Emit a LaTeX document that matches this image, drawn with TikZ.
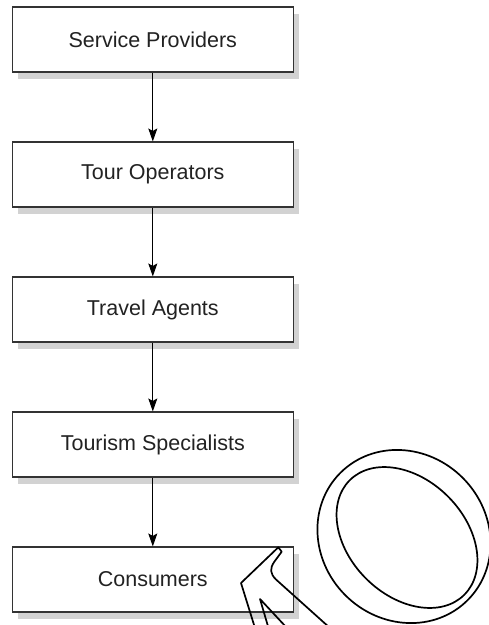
\documentclass[tikz,border=0pt]{standalone}
\usepackage{fontspec}
\setmainfont{Liberation Sans}
\usetikzlibrary{arrows.meta}
\definecolor{boxline}{HTML}{333333}
\definecolor{shadowgray}{HTML}{D2D2D2}
\definecolor{txt}{HTML}{222222}
\tikzset{
  stagebox/.style={draw=boxline, line width=1.1pt, fill=white, minimum width=281pt, minimum height=65pt, inner sep=0pt, text=txt, font=\fontsize{21.5}{25}\selectfont},
  shadowbox/.style={fill=shadowgray, draw=none, minimum width=281pt, minimum height=65pt, inner sep=0pt},
  flow/.style={line width=1pt, -{Stealth[length=13pt, width=9pt, inset=2.5pt]}},
  sketch/.style={line width=1.7pt, black, line join=round}
}
\begin{document}
\begin{tikzpicture}[x=1pt, y=-1pt]
\useasboundingbox (0,0) rectangle (489,625);
\begin{scope}
\clip (0,0) rectangle (489,625);
% shadows
\foreach \yy/\nm in {39.5/s1, 174.5/s2, 309.5/s3, 444.5/s4, 579.5/s5}{
  \node[shadowbox] (\nm) at (158.8,\yy+6.7) {};
}
\node[stagebox] (sp) at (152.8,39.5) {Service Providers};
\node[stagebox] (to) at (152.8,174.5) {Tour Operators};
\node[stagebox] (ta) at (152.8,309.5) {Travel Agents};
\node[stagebox] (ts) at (152.8,444.5) {Tourism Specialists};
\node[stagebox] (co) at (152.8,579.5) {Consumers};
\draw[flow] (sp) -- (to);
\draw[flow] (to) -- (ta);
\draw[flow] (ta) -- (ts);
\draw[flow] (ts) -- (co);
% magnifier overlay
\draw[sketch, rotate around={-45:(404,536.5)}] (404,536.5) ellipse [x radius=90, y radius=83];
\draw[sketch, rotate around={-45:(407,537.5)}] (407,537.5) ellipse [x radius=81, y radius=58];
\draw[sketch] (255,628) -- (241,583) -- (278.3,547.3) -- (281.7,551.7) -- (274.5,561.5)
  .. controls (269.5,568.5) and (270,573.5) .. (276,579.5) -- (330,628);
\draw[sketch] (268.5,628) -- (260,599) -- (287,628);
\end{scope}
\end{tikzpicture}
\end{document}
